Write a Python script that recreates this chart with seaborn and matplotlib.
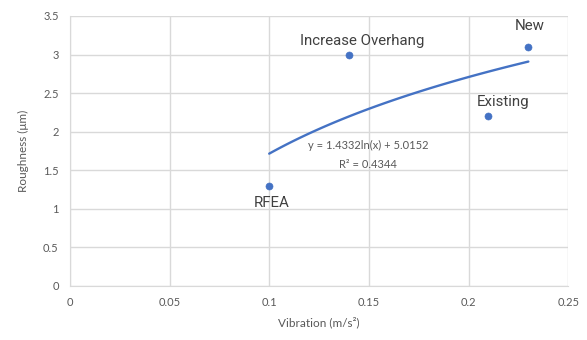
import matplotlib
matplotlib.use("Agg")
import matplotlib.pyplot as plt
import numpy as np
import pandas as pd
import seaborn as sns

# measured points
names = ["RFEA", "Increase Overhang", "Existing", "New"]
vibration = [0.10, 0.14, 0.21, 0.23]
roughness = [1.3, 3.0, 2.2, 3.1]

# log trendline coefficients (from the chart)
coef_a = 1.4332
coef_b = 5.0152
r_squared = 0.4344

xticks = [0, 0.05, 0.1, 0.15, 0.2, 0.25]
xtick_labels = ["0", "0.05", "0.1", "0.15", "0.2", "0.25"]
yticks = [0, 0.5, 1, 1.5, 2, 2.5, 3, 3.5]
ytick_labels = ["0", "0.5", "1", "1.5", "2", "2.5", "3", "3.5"]

df = pd.DataFrame({"name": names, "vibration": vibration, "roughness": roughness})

xt = np.linspace(min(vibration), max(vibration), 100)
trend = pd.DataFrame({"vibration": xt, "roughness": coef_a * np.log(xt) + coef_b})

sns.set_style("white")
plt.rcParams["font.family"] = ["Lato", "DejaVu Sans"]

blue = "#4472C4"
grey_txt = "#595959"

fig = plt.figure(figsize=(5.87, 3.40), dpi=100)
ax = fig.add_axes([0.119, 0.159, 0.849, 0.794])

sns.lineplot(data=trend, x="vibration", y="roughness", ax=ax, color=blue, linewidth=1.7)
sns.scatterplot(data=df, x="vibration", y="roughness", ax=ax, color=blue, s=26,
                edgecolor=blue, zorder=3)

ax.set_xlim(0, 0.25)
ax.set_ylim(0, 3.5)
ax.set_xticks(xticks)
ax.set_xticklabels(xtick_labels)
ax.set_yticks(yticks)
ax.set_yticklabels(ytick_labels)
ax.grid(True, color="#D9D9D9", linewidth=1)
ax.set_axisbelow(True)
for s in ["top", "right"]:
    ax.spines[s].set_visible(False)
for s in ["left", "bottom"]:
    ax.spines[s].set_color("#D9D9D9")
ax.tick_params(axis="both", length=0, labelsize=8, colors=grey_txt, pad=8)

ax.set_xlabel("Vibration (m/s\u00b2)", fontsize=8.5, color=grey_txt, labelpad=6)
ax.set_ylabel("Roughness (\u03bcm)", fontsize=8.5, color=grey_txt, labelpad=10)

# point labels
offsets = {"RFEA": (2, -17), "Increase Overhang": (13, 14), "Existing": (15, 14), "New": (1, 21)}
for n, x, y in zip(names, vibration, roughness):
    ax.annotate(n, (x, y), xytext=offsets[n], textcoords="offset pixels",
                ha="center", va="center", fontsize=10.8, color="#404040",
                family=["Roboto", "DejaVu Sans"])

ax.text(0.1496, 1.815, f"y = {coef_a}ln(x) + {coef_b}", ha="center", va="center",
        fontsize=8, color=grey_txt)
ax.text(0.1496, 1.569, f"R\u00b2 = {r_squared}", ha="center", va="center",
        fontsize=8, color=grey_txt)

fig.savefig("out.png", dpi=100)
